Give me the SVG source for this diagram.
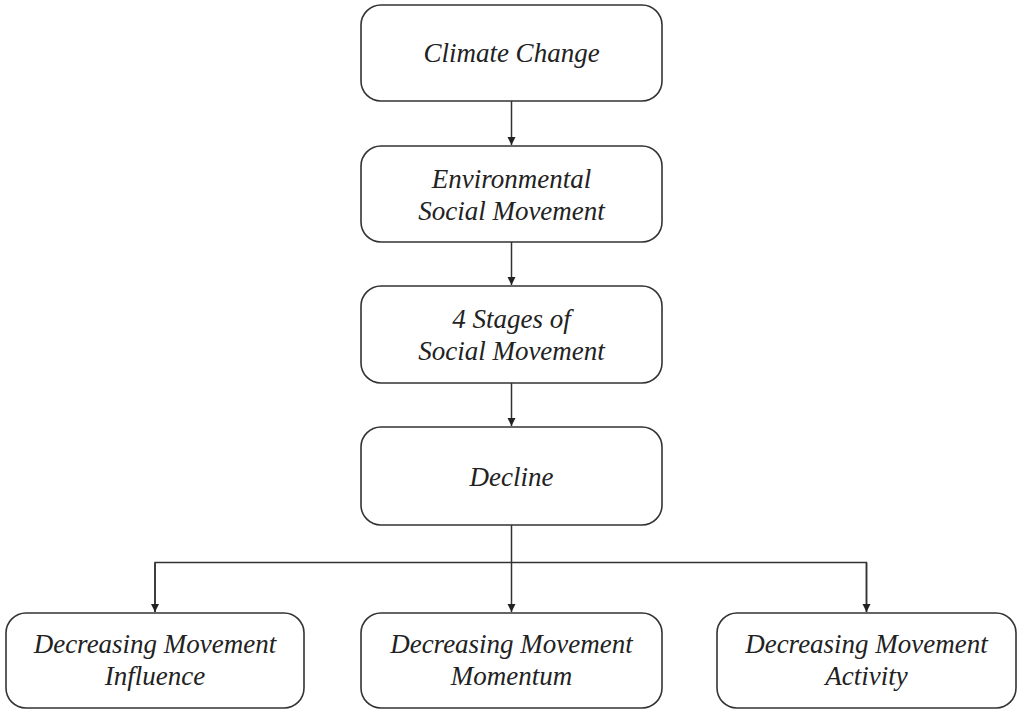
<svg xmlns="http://www.w3.org/2000/svg" width="1018" height="711" viewBox="0 0 1018 711">
<style>
.box{fill:#fff;stroke:#333;stroke-width:1.6}
.t{font-family:"Liberation Serif","Times New Roman",serif;font-style:italic;font-size:27px;fill:#222;text-anchor:middle}
.c{fill:none;stroke:#333;stroke-width:1.5}
</style>
<defs>
<marker id="ah" viewBox="0 0 8 10" refX="8" refY="5" markerWidth="8" markerHeight="10" markerUnits="userSpaceOnUse" orient="auto">
<path d="M0,1 L8,5 L0,9 Z" fill="#222"/>
</marker>
</defs>
<rect width="1018" height="711" fill="#fff"/>
<g id="connectors">
<line class="c" x1="511.5" y1="101" x2="511.5" y2="145" marker-end="url(#ah)"/>
<line class="c" x1="511.5" y1="242" x2="511.5" y2="285" marker-end="url(#ah)"/>
<line class="c" x1="511.5" y1="383" x2="511.5" y2="426" marker-end="url(#ah)"/>
<line class="c" x1="511.5" y1="525" x2="511.5" y2="612" marker-end="url(#ah)"/>
<polyline class="c" points="155,612 155,562.5 866.5,562.5 866.5,612"/>
<line class="c" x1="155" y1="563" x2="155" y2="612" marker-end="url(#ah)"/>
<line class="c" x1="866.5" y1="563" x2="866.5" y2="612" marker-end="url(#ah)"/>
</g>
<g id="climate-change">
<rect class="box" x="361" y="5" width="301" height="96" rx="20"/>
<text class="t" x="511.5" y="62">Climate Change</text>
</g>
<g id="environmental-social-movement">
<rect class="box" x="361" y="146" width="301" height="96" rx="20"/>
<text class="t" x="511.5" y="188">Environmental</text>
<text class="t" x="511.5" y="220">Social Movement</text>
</g>
<g id="four-stages">
<rect class="box" x="361" y="286" width="301" height="97" rx="20"/>
<text class="t" x="511.5" y="328">4 Stages of</text>
<text class="t" x="511.5" y="360">Social Movement</text>
</g>
<g id="decline">
<rect class="box" x="361" y="427" width="301" height="98" rx="20"/>
<text class="t" x="511.5" y="486">Decline</text>
</g>
<g id="influence">
<rect class="box" x="6" y="613" width="298" height="95" rx="20"/>
<text class="t" x="155" y="653">Decreasing Movement</text>
<text class="t" x="155" y="685">Influence</text>
</g>
<g id="momentum">
<rect class="box" x="361" y="613" width="301" height="95" rx="20"/>
<text class="t" x="511.5" y="653">Decreasing Movement</text>
<text class="t" x="511.5" y="685">Momentum</text>
</g>
<g id="activity">
<rect class="box" x="717" y="613" width="299" height="95" rx="20"/>
<text class="t" x="866.5" y="653">Decreasing Movement</text>
<text class="t" x="866.5" y="685">Activity</text>
</g>
</svg>
